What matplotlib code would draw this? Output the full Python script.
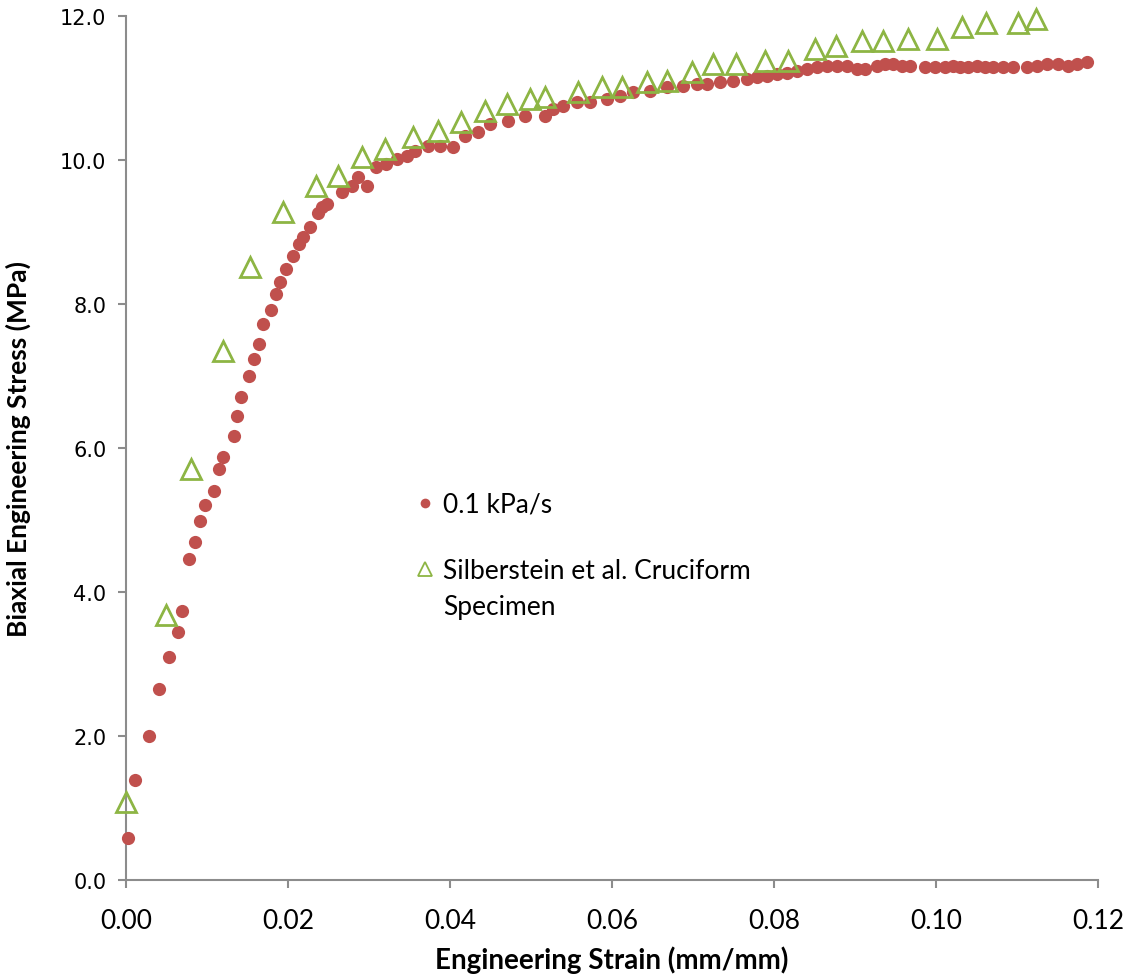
import numpy as np
import matplotlib.pyplot as plt
from matplotlib.lines import Line2D

# 0.1 kPa/s test (red circles)
strain_rate = [0.0002, 0.0011, 0.0028, 0.0041, 0.0053, 0.0064, 0.0069, 0.0078, 0.0085, 0.0091,
               0.0098, 0.0109, 0.0115, 0.0120, 0.0133, 0.0137, 0.0142, 0.0152, 0.0158, 0.0164,
               0.0169, 0.0179, 0.0185, 0.0190, 0.0198, 0.0206, 0.0214, 0.0219, 0.0227, 0.0237,
               0.0242, 0.0248, 0.0267, 0.0279, 0.0286, 0.0298, 0.0309, 0.0321, 0.0335, 0.0347,
               0.0357, 0.0373, 0.0388, 0.0404, 0.0419, 0.0435, 0.0449, 0.0472, 0.0493, 0.0517,
               0.0527, 0.0540, 0.0557, 0.0573, 0.0594, 0.0610, 0.0626, 0.0647, 0.0668, 0.0688,
               0.0705, 0.0717, 0.0733, 0.0749, 0.0767, 0.0779, 0.0791, 0.0804, 0.0816, 0.0828,
               0.0841, 0.0853, 0.0865, 0.0878, 0.0890, 0.0902, 0.0912, 0.0927, 0.0937, 0.0947,
               0.0958, 0.0968, 0.0986, 0.0999, 0.1011, 0.1021, 0.1030, 0.1040, 0.1051, 0.1060,
               0.1070, 0.1083, 0.1095, 0.1112, 0.1125, 0.1137, 0.1151, 0.1163, 0.1174, 0.1186]
stress_rate = [0.58, 1.39, 2.00, 2.65, 3.10, 3.44, 3.74, 4.46, 4.69, 4.99,
               5.21, 5.40, 5.71, 5.87, 6.17, 6.44, 6.71, 7.00, 7.24, 7.44,
               7.72, 7.92, 8.14, 8.31, 8.49, 8.67, 8.83, 8.93, 9.07, 9.26,
               9.35, 9.39, 9.56, 9.64, 9.76, 9.64, 9.90, 9.94, 10.01, 10.06,
               10.13, 10.19, 10.19, 10.18, 10.33, 10.39, 10.50, 10.54, 10.61, 10.61,
               10.71, 10.75, 10.81, 10.81, 10.85, 10.89, 10.94, 10.96, 11.01, 11.03,
               11.06, 11.06, 11.08, 11.10, 11.13, 11.15, 11.17, 11.19, 11.21, 11.24,
               11.26, 11.29, 11.31, 11.31, 11.31, 11.26, 11.26, 11.31, 11.33, 11.33,
               11.31, 11.31, 11.29, 11.29, 11.29, 11.31, 11.29, 11.29, 11.31, 11.29,
               11.29, 11.29, 11.29, 11.29, 11.31, 11.33, 11.33, 11.31, 11.33, 11.36]

# Silberstein et al. cruciform specimen (green triangles)
strain_silb = [0.0000, 0.0049, 0.0080, 0.0120, 0.0153, 0.0194, 0.0235, 0.0262, 0.0291, 0.0320,
               0.0354, 0.0385, 0.0414, 0.0443, 0.0470, 0.0499, 0.0517, 0.0558, 0.0588, 0.0612,
               0.0643, 0.0668, 0.0699, 0.0725, 0.0753, 0.0789, 0.0817, 0.0851, 0.0877, 0.0909,
               0.0935, 0.0965, 0.1001, 0.1032, 0.1062, 0.1101, 0.1123]
stress_silb = [1.08, 3.68, 5.71, 7.35, 8.51, 9.28, 9.64, 9.78, 10.04, 10.15,
               10.32, 10.40, 10.53, 10.68, 10.78, 10.85, 10.88, 10.94, 11.01, 11.01,
               11.08, 11.10, 11.22, 11.33, 11.33, 11.38, 11.38, 11.54, 11.58, 11.65,
               11.65, 11.68, 11.68, 11.85, 11.90, 11.90, 11.96]

labels = ["0.1 kPa/s", "Silberstein et al. Cruciform", "Specimen"]
x_ticks = [0.00, 0.02, 0.04, 0.06, 0.08, 0.10, 0.12]
y_ticks = [0.0, 2.0, 4.0, 6.0, 8.0, 10.0, 12.0]

red = "#C0504D"
green = "#8DB544"
axis_grey = "#8C8C8C"
lato = ["Lato", "DejaVu Sans"]

fig = plt.figure(figsize=(11.27, 9.78), dpi=100)
ax = fig.add_axes([126 / 1127, 1 - 881 / 978, (1098 - 126) / 1127, (881 - 17) / 978])

ax.plot(strain_rate, stress_rate, linestyle="none", marker="o", markersize=9.5,
        color=red, markeredgewidth=0, clip_on=False, zorder=3)
ax.plot(strain_silb, stress_silb, linestyle="none", marker="^", markersize=15,
        markerfacecolor="none", markeredgecolor=green, markeredgewidth=2.0,
        clip_on=False, zorder=4)

ax.set_xlim(0, 0.12)
ax.set_ylim(0, 12)
ax.set_xticks(x_ticks)
ax.set_yticks(y_ticks)
ax.set_xticklabels([f"{t:.2f}" for t in x_ticks], family=lato, fontsize=19)
ax.set_yticklabels([f"{t:.1f}" for t in y_ticks], family="DejaVu Sans", fontsize=15)

for side in ["top", "right"]:
    ax.spines[side].set_visible(False)
for side in ["left", "bottom"]:
    ax.spines[side].set_color(axis_grey)
    ax.spines[side].set_linewidth(1.5)
ax.tick_params(axis="both", direction="out", length=6, width=1.5, color=axis_grey)
ax.tick_params(axis="x", pad=14)
ax.tick_params(axis="y", pad=8)

ax.set_xlabel("Engineering Strain (mm/mm)", family=lato, fontsize=20,
              fontweight="bold", labelpad=9)
ax.set_ylabel("Biaxial Engineering Stress (MPa)", family=lato, fontsize=19,
              fontweight="bold", labelpad=21)

handles = [Line2D([], [], linestyle="none", marker="o", markersize=7, color=red,
                  markeredgewidth=0),
           Line2D([], [], linestyle="none", marker="^", markersize=10,
                  markerfacecolor="none", markeredgecolor=green, markeredgewidth=1.3)]
leg = ax.legend(handles, labels[:2], loc="upper left",
                bbox_to_anchor=(417 / 1127, 1 - 493 / 978),
                bbox_transform=fig.transFigure, frameon=False, borderpad=0, borderaxespad=0,
                handlelength=0.6, handletextpad=0.4, labelspacing=1.55,
                prop={"family": lato, "size": 19})

# second line of the Silberstein label sits under the first one
fig.canvas.draw()
inv = fig.transFigure.inverted()
bb = leg.get_texts()[1].get_window_extent()
x0, y0 = inv.transform((bb.x0, bb.y0))
fig.text(x0, y0 - 11 / 978, labels[2], family=lato, fontsize=19, ha="left", va="top")

plt.savefig("out.png", dpi=100)
